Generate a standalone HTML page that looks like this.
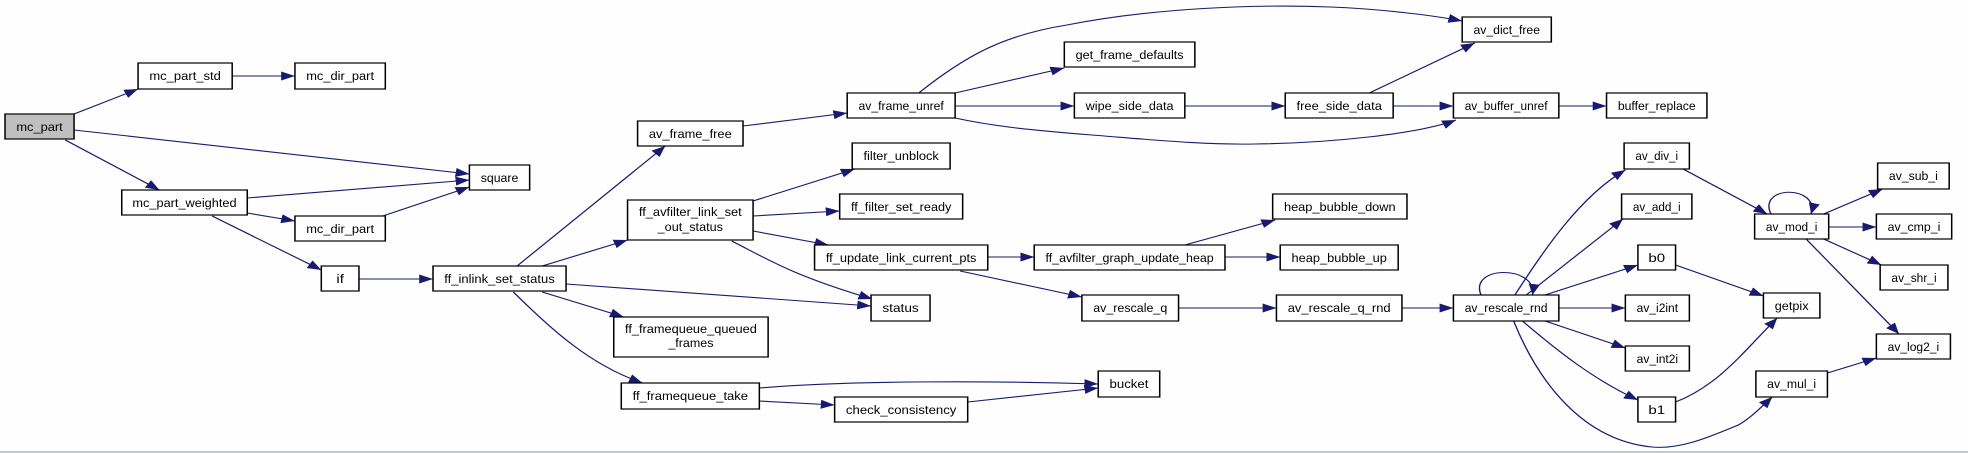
<!DOCTYPE html>
<html><head><meta charset="utf-8"><style>
html,body{margin:0;padding:0;background:#fff;}
svg{display:block;}
text{font-family:"Liberation Sans",sans-serif;font-size:12px;fill:#000;}
.n{fill:#fff;stroke:#000;stroke-width:1.2;}
.e{fill:none;stroke:#191970;stroke-width:1.1;}
</style></head><body>
<svg width="1968" height="453" viewBox="0 0 1568 453" preserveAspectRatio="none" xmlns="http://www.w3.org/2000/svg">
<defs><marker id="a" viewBox="0 0 10 10" refX="10" refY="5" markerWidth="11" markerHeight="9" markerUnits="userSpaceOnUse" orient="auto" preserveAspectRatio="none"><path d="M0,0 L10,5 L0,10 z" fill="#191970"/></marker></defs>
<rect x="0" y="0" width="1568" height="453" fill="#fdfefd"/>
<line x1="0" y1="452" x2="1568" y2="452" stroke="#a8a8b8" stroke-width="1.2"/>
<g class="e" marker-end="url(#a)">
<path d="M59,114 L110,89"/>
<path d="M185,76 L235,76"/>
<path d="M59,130 L374,174"/>
<path d="M52,140 L127,190"/>
<path d="M197,198 L374,180"/>
<path d="M197,213 L235,221"/>
<path d="M305,216 L374,187"/>
<path d="M169,216 L256,270"/>
<path d="M286,279 L345,279"/>
<path d="M412,266 L530,146"/>
<path d="M432,266 L500,240"/>
<path d="M451,284 L694,306"/>
<path d="M432,292 L497,317"/>
<path d="M409,292 C440,330 470,365 512,383"/>
<path d="M592,126 L675,113"/>
<path d="M732,93 C770,55 800,35 850,25 C920,8 1000,4 1060,7 C1100,9 1140,15 1165,21"/>
<path d="M761,93 L848,68"/>
<path d="M761,106 L856,106"/>
<path d="M761,118 C790,126 820,130 870,135 C920,140 960,145 1000,144 C1060,143 1130,134 1160,120"/>
<path d="M944,106 L1024,106"/>
<path d="M1091,93 L1175,43"/>
<path d="M1110,106 L1158,106"/>
<path d="M1242,106 L1280,106"/>
<path d="M600,201 L681,169"/>
<path d="M600,216 L669,211"/>
<path d="M600,231 L660,245"/>
<path d="M583,241 C610,258 630,275 695,299"/>
<path d="M787,257 L824,257"/>
<path d="M765,271 L862,297"/>
<path d="M944,245 L1016,220"/>
<path d="M976,257 L1020,257"/>
<path d="M939,308 L1017,308"/>
<path d="M1117,308 L1158,308"/>
<path d="M605,388 C680,380 800,381 875,384"/>
<path d="M605,401 L665,405"/>
<path d="M771,402 L875,388"/>
<path d="M1180,295 C1170,265 1225,265 1221,295"/>
<path d="M1207,295 C1230,250 1260,195 1295,170"/>
<path d="M1216,295 L1293,219"/>
<path d="M1231,295 L1305,265"/>
<path d="M1242,308 L1295,308"/>
<path d="M1231,321 L1295,348"/>
<path d="M1213,321 C1240,350 1270,380 1305,400"/>
<path d="M1206,321 C1225,380 1260,440 1316,447 C1340,450 1365,435 1385,425 C1395,418 1405,405 1412,397"/>
<path d="M1341,169 L1408,214"/>
<path d="M1411,214 C1400,185 1450,185 1443,214"/>
<path d="M1453,214 L1500,189"/>
<path d="M1457,227 L1495,227"/>
<path d="M1453,239 L1499,265"/>
<path d="M1439,239 L1513,334"/>
<path d="M1335,265 L1405,296"/>
<path d="M1335,402 C1370,385 1390,350 1416,318"/>
<path d="M1456,373 L1495,358"/>
</g>
<g>
<rect x="4" y="114" width="55" height="25" fill="#bfbfbf" stroke="#000" stroke-width="1.2"/>
<text x="31.5" y="131" text-anchor="middle" textLength="37" lengthAdjust="spacingAndGlyphs">mc_part</text>
<rect class="n" x="110" y="63" width="75" height="26"/><text x="147.5" y="80" text-anchor="middle" textLength="57" lengthAdjust="spacingAndGlyphs">mc_part_std</text>
<rect class="n" x="235" y="63" width="72" height="26"/><text x="271" y="80" text-anchor="middle" textLength="54" lengthAdjust="spacingAndGlyphs">mc_dir_part</text>
<rect class="n" x="374" y="165" width="48" height="25"/><text x="398" y="182" text-anchor="middle" textLength="30" lengthAdjust="spacingAndGlyphs">square</text>
<rect class="n" x="97" y="190" width="100" height="25"/><text x="147" y="207" text-anchor="middle" textLength="83" lengthAdjust="spacingAndGlyphs">mc_part_weighted</text>
<rect class="n" x="235" y="216" width="72" height="25"/><text x="271" y="233" text-anchor="middle" textLength="54" lengthAdjust="spacingAndGlyphs">mc_dir_part</text>
<rect class="n" x="256" y="266" width="30" height="25"/><text x="271" y="283" text-anchor="middle">if</text>
<rect class="n" x="345" y="266" width="106" height="25"/><text x="398" y="283" text-anchor="middle" textLength="88" lengthAdjust="spacingAndGlyphs">ff_inlink_set_status</text>
<rect class="n" x="508" y="121" width="84" height="25"/><text x="550" y="138" text-anchor="middle" textLength="66" lengthAdjust="spacingAndGlyphs">av_frame_free</text>
<rect class="n" x="500" y="200" width="100" height="40"/><text x="550" y="216" text-anchor="middle" textLength="82" lengthAdjust="spacingAndGlyphs">ff_avfilter_link_set</text><text x="550" y="231" text-anchor="middle" textLength="52" lengthAdjust="spacingAndGlyphs">_out_status</text>
<rect class="n" x="489" y="317" width="123" height="40"/><text x="550.5" y="333" text-anchor="middle" textLength="105" lengthAdjust="spacingAndGlyphs">ff_framequeue_queued</text><text x="550.5" y="347" text-anchor="middle" textLength="36" lengthAdjust="spacingAndGlyphs">_frames</text>
<rect class="n" x="495" y="383" width="110" height="26"/><text x="550" y="400" text-anchor="middle" textLength="92" lengthAdjust="spacingAndGlyphs">ff_framequeue_take</text>
<rect class="n" x="675" y="93" width="86" height="25"/><text x="718" y="110" text-anchor="middle" textLength="68" lengthAdjust="spacingAndGlyphs">av_frame_unref</text>
<rect class="n" x="848" y="42" width="104" height="25"/><text x="900" y="59" text-anchor="middle" textLength="86" lengthAdjust="spacingAndGlyphs">get_frame_defaults</text>
<rect class="n" x="856" y="93" width="88" height="25"/><text x="900" y="110" text-anchor="middle" textLength="70" lengthAdjust="spacingAndGlyphs">wipe_side_data</text>
<rect class="n" x="679" y="143" width="78" height="26"/><text x="718" y="160" text-anchor="middle" textLength="60" lengthAdjust="spacingAndGlyphs">filter_unblock</text>
<rect class="n" x="669" y="194" width="98" height="25"/><text x="718" y="211" text-anchor="middle" textLength="80" lengthAdjust="spacingAndGlyphs">ff_filter_set_ready</text>
<rect class="n" x="649" y="245" width="138" height="25"/><text x="718" y="262" text-anchor="middle" textLength="120" lengthAdjust="spacingAndGlyphs">ff_update_link_current_pts</text>
<rect class="n" x="824" y="245" width="152" height="25"/><text x="900" y="262" text-anchor="middle" textLength="134" lengthAdjust="spacingAndGlyphs">ff_avfilter_graph_update_heap</text>
<rect class="n" x="694" y="295" width="47" height="26"/><text x="717.5" y="312" text-anchor="middle" textLength="29" lengthAdjust="spacingAndGlyphs">status</text>
<rect class="n" x="862" y="295" width="77" height="26"/><text x="900.5" y="312" text-anchor="middle" textLength="59" lengthAdjust="spacingAndGlyphs">av_rescale_q</text>
<rect class="n" x="875" y="371" width="49" height="26"/><text x="899.5" y="388" text-anchor="middle" textLength="31" lengthAdjust="spacingAndGlyphs">bucket</text>
<rect class="n" x="665" y="397" width="106" height="25"/><text x="718" y="414" text-anchor="middle" textLength="88" lengthAdjust="spacingAndGlyphs">check_consistency</text>
<rect class="n" x="1024" y="93" width="86" height="25"/><text x="1067" y="110" text-anchor="middle" textLength="68" lengthAdjust="spacingAndGlyphs">free_side_data</text>
<rect class="n" x="1014" y="194" width="107" height="25"/><text x="1067.5" y="211" text-anchor="middle" textLength="89" lengthAdjust="spacingAndGlyphs">heap_bubble_down</text>
<rect class="n" x="1020" y="245" width="94" height="25"/><text x="1067" y="262" text-anchor="middle" textLength="76" lengthAdjust="spacingAndGlyphs">heap_bubble_up</text>
<rect class="n" x="1017" y="295" width="100" height="26"/><text x="1067" y="312" text-anchor="middle" textLength="82" lengthAdjust="spacingAndGlyphs">av_rescale_q_rnd</text>
<rect class="n" x="1165" y="17" width="71" height="25"/><text x="1200.5" y="34" text-anchor="middle" textLength="53" lengthAdjust="spacingAndGlyphs">av_dict_free</text>
<rect class="n" x="1158" y="93" width="84" height="25"/><text x="1200" y="110" text-anchor="middle" textLength="66" lengthAdjust="spacingAndGlyphs">av_buffer_unref</text>
<rect class="n" x="1280" y="93" width="80" height="25"/><text x="1320" y="110" text-anchor="middle" textLength="62" lengthAdjust="spacingAndGlyphs">buffer_replace</text>
<rect class="n" x="1158" y="295" width="84" height="26"/><text x="1200" y="312" text-anchor="middle" textLength="66" lengthAdjust="spacingAndGlyphs">av_rescale_rnd</text>
<rect class="n" x="1294" y="143" width="52" height="26"/><text x="1320" y="160" text-anchor="middle" textLength="34" lengthAdjust="spacingAndGlyphs">av_div_i</text>
<rect class="n" x="1292" y="194" width="56" height="25"/><text x="1320" y="211" text-anchor="middle" textLength="38" lengthAdjust="spacingAndGlyphs">av_add_i</text>
<rect class="n" x="1305" y="245" width="30" height="25"/><text x="1320" y="262" text-anchor="middle">b0</text>
<rect class="n" x="1295" y="295" width="51" height="26"/><text x="1320.5" y="312" text-anchor="middle" textLength="33" lengthAdjust="spacingAndGlyphs">av_i2int</text>
<rect class="n" x="1295" y="346" width="51" height="25"/><text x="1320.5" y="363" text-anchor="middle" textLength="33" lengthAdjust="spacingAndGlyphs">av_int2i</text>
<rect class="n" x="1305" y="397" width="30" height="25"/><text x="1320" y="414" text-anchor="middle">b1</text>
<rect class="n" x="1398" y="214" width="59" height="25"/><text x="1427.5" y="231" text-anchor="middle" textLength="41" lengthAdjust="spacingAndGlyphs">av_mod_i</text>
<rect class="n" x="1405" y="293" width="45" height="25"/><text x="1427.5" y="310" text-anchor="middle" textLength="27" lengthAdjust="spacingAndGlyphs">getpix</text>
<rect class="n" x="1399" y="371" width="57" height="26"/><text x="1427.5" y="388" text-anchor="middle" textLength="39" lengthAdjust="spacingAndGlyphs">av_mul_i</text>
<rect class="n" x="1496" y="163" width="57" height="26"/><text x="1524.5" y="180" text-anchor="middle" textLength="39" lengthAdjust="spacingAndGlyphs">av_sub_i</text>
<rect class="n" x="1495" y="214" width="60" height="25"/><text x="1525" y="231" text-anchor="middle" textLength="42" lengthAdjust="spacingAndGlyphs">av_cmp_i</text>
<rect class="n" x="1498" y="265" width="54" height="25"/><text x="1525" y="282" text-anchor="middle" textLength="36" lengthAdjust="spacingAndGlyphs">av_shr_i</text>
<rect class="n" x="1495" y="334" width="59" height="25"/><text x="1524.5" y="351" text-anchor="middle" textLength="41" lengthAdjust="spacingAndGlyphs">av_log2_i</text>
</g>
</svg>
</body></html>
